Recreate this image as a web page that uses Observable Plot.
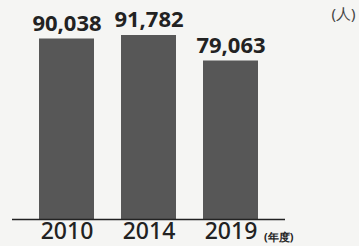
<!DOCTYPE html>
<html><head><meta charset="utf-8">
<script src="https://cdn.jsdelivr.net/npm/d3@7"></script>
<script src="https://cdn.jsdelivr.net/npm/@observablehq/plot@0.6"></script>
<style>
html,body{margin:0;padding:0;background:#f5f5f3;}
svg{display:block;}
</style></head>
<body><div id="chart"></div>
<script>
const years = ["2010", "2014", "2019"];
const values = [90038, 91782, 79063];
const unitLabel = "(人)";
const yearUnit = "(年度)";

const data = years.map((y, i) => ({year: y, value: values[i]}));
const fmt = d3.format(",");

const chart = Plot.plot({
  width: 359,
  height: 246,
  marginTop: 0,
  marginBottom: 27,
  marginLeft: 12,
  marginRight: 74,
  style: {background: "#f5f5f3", fontFamily: "'Noto Sans', sans-serif", color: "#222"},
  x: {domain: years, range: [39, 258], paddingInner: 0.33, paddingOuter: 0, label: null},
  y: {domain: [0, 109240], axis: null},
  marks: [
    Plot.barY(data, {x: "year", y: "value", fill: "#575757"}),
    Plot.ruleY([0], {stroke: "#222", strokeWidth: 1.5}),
    Plot.text(data, {x: "year", y: "value", text: d => fmt(d.value), lineAnchor: "bottom", dy: -8,
      fontSize: 22, fontWeight: "bold", fill: "#222", style: "letter-spacing:-0.8px"}),
    Plot.axisX({tickSize: 0, tickPadding: 3, fontSize: 23, fontWeight: 500, fill: "#222"}),
    Plot.text([yearUnit], {frameAnchor: "bottom-right", dx: 8, dy: 21, lineAnchor: "bottom", textAnchor: "end",
      fontSize: 11, fontWeight: "bold", fill: "#222", style: "letter-spacing:-0.5px"}),
    Plot.text([unitLabel], {frameAnchor: "top-right", dx: 70, dy: 8, lineAnchor: "top", textAnchor: "end",
      fontSize: 15, fill: "#444"})
  ]
});
document.getElementById("chart").append(chart);
</script></body></html>
